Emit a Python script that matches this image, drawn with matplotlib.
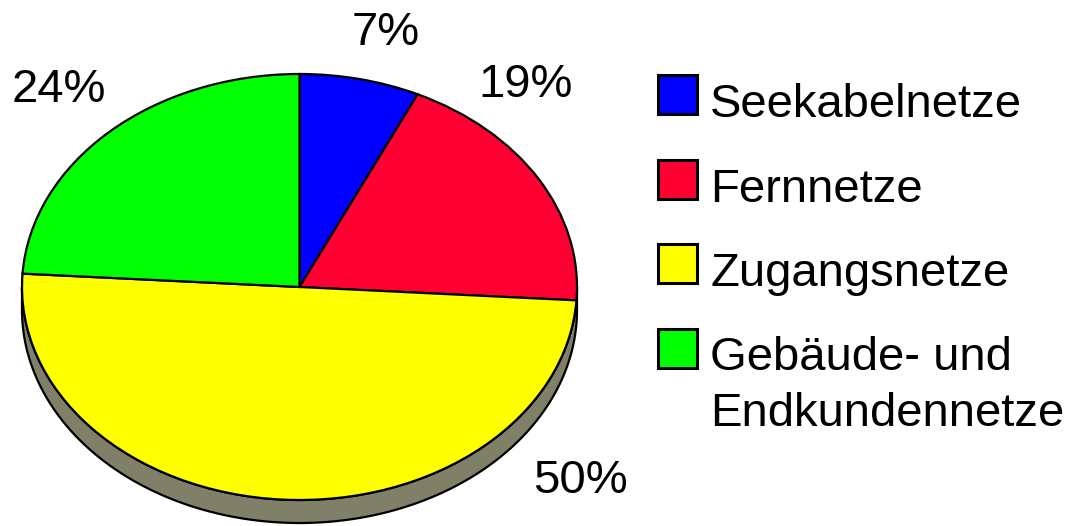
import numpy as np
import matplotlib
matplotlib.use("Agg")
import matplotlib.pyplot as plt
from matplotlib.patches import Polygon, Rectangle

# ---- data ----
categories = ["Seekabelnetze", "Fernnetze", "Zugangsnetze", "Gebäude- und\nEndkundennetze"]
values = [7, 19, 50, 24]
colors = ["#0000FF", "#FF0033", "#FFFF00", "#00FF00"]
pct_labels = [f"{v}%" for v in values]

# ---- style / layout (pixels) ----
W, H = 1071, 526
FONT = "Liberation Sans"
FS = 34
label_pos = [(352, 45), (478, 97), (533, 493), (12, 102)]  # left, baseline
ell_left, ell_right, ell_top, ell_bottom = 22, 577, 74, 500
depth_px = 23
shadow_color = "#808068"
line_gap = 55

fig = plt.figure(figsize=(W / 100, H / 100), dpi=100)
fig.patch.set_facecolor("white")

# pie axes: unit circle mapped onto the ellipse
ax = fig.add_axes([ell_left / W, (H - ell_bottom) / H,
                   (ell_right - ell_left) / W, (ell_bottom - ell_top) / H])
wedges, _ = ax.pie(values, colors=colors, startangle=90, counterclock=False,
                   radius=1.0, wedgeprops=dict(edgecolor="black", linewidth=1.6))
ax.set_aspect("auto")
ax.set_xlim(-1, 1)
ax.set_ylim(-1, 1)
ax.axis("off")
for w in wedges:
    w.set_zorder(3)

# side wall (depth) of the 3D pie
d = depth_px / ((ell_bottom - ell_top) / 2)
t = np.linspace(np.pi, 2 * np.pi, 300)
top = np.column_stack([np.cos(t), np.sin(t)])
bot = np.column_stack([np.cos(t[::-1]), np.sin(t[::-1]) - d])
wall = Polygon(np.vstack([top, bot]), closed=True, facecolor=shadow_color,
               edgecolor="black", linewidth=1.6, zorder=1, clip_on=False)
ax.add_patch(wall)

# overlay axes in pixel coordinates for texts/legend
ov = fig.add_axes([0, 0, 1, 1], facecolor="none")
ov.set_xlim(0, W)
ov.set_ylim(H, 0)
ov.axis("off")

for lab, (x, y) in zip(pct_labels, label_pos):
    ov.text(x, y, lab, fontsize=FS, family=FONT, ha="left", va="baseline")

# legend
leg_x, leg_y0, leg_step, box = 658, 75, 84.5, 39
for i, (cat, c) in enumerate(zip(categories, colors)):
    y = leg_y0 + i * leg_step
    ov.add_patch(Rectangle((leg_x, y), box, box, facecolor=c, edgecolor="black",
                           linewidth=2.2))
    lines = cat.split("\n")
    for j, ln in enumerate(lines):
        ov.text(710, y + box + 3 + j * line_gap, ln, fontsize=FS, family=FONT,
                ha="left", va="baseline")

fig.savefig("out.png", dpi=100)
